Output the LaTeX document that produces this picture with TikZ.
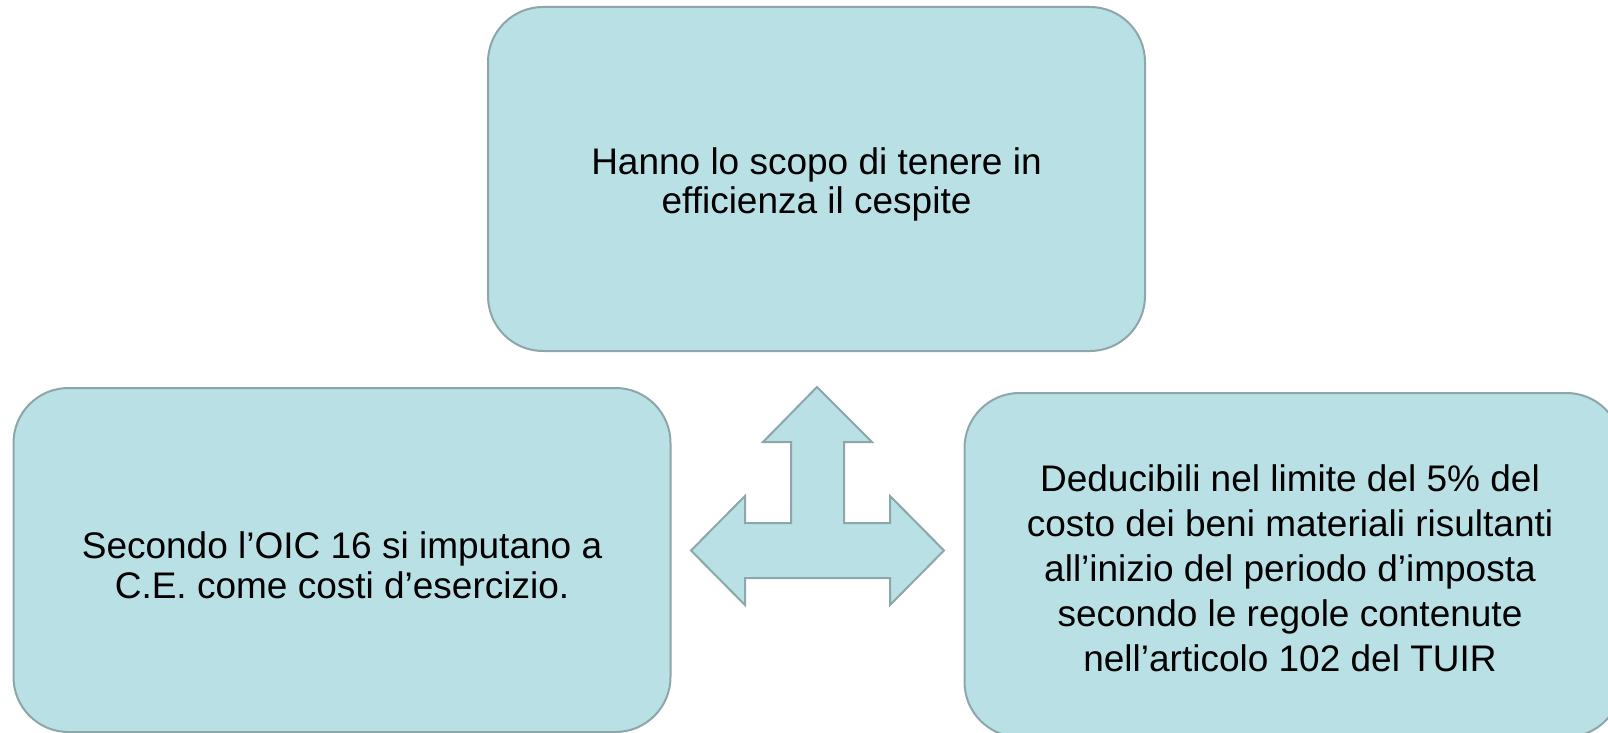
\documentclass[tikz,border=0pt]{standalone}
\usepackage{fontspec}
\setmainfont{Liberation Sans}
\usepackage{tikz}
\definecolor{boxfill}{RGB}{185,224,228}
\definecolor{boxline}{RGB}{140,166,169}

\begin{document}
\begin{tikzpicture}[x=0.5pt, y=-0.5pt,
  card/.style={rectangle, rounded corners=27.5pt, draw=boxline, fill=boxfill,
    line width=1pt, minimum width=328.5pt, minimum height=172pt, inner sep=0pt},
  cardtext/.style={align=center, inner sep=0pt},
  triarrow/.style={draw=boxline, fill=boxfill, line width=1pt, line join=miter}]
\useasboundingbox (0,0) rectangle (1608,733);
\node[card] (scopo) at (816.5,179) {};
\node[card] (oic) at (342,560) {};
\node[card] (tuir) at (1293,565) {};
\node[cardtext, font=\fontsize{18.5}{19.5}\selectfont] (scopotxt) at (816.5,184.5)
  {Hanno lo scopo di tenere in\\efficienza il cespite};
\node[cardtext, font=\fontsize{18.5}{20}\selectfont] (oictxt) at (342,565)
  {Secondo l’OIC 16 si imputano a\\C.E. come costi d’esercizio.};
\node[cardtext, font=\fontsize{18.5}{22.5}\selectfont] (tuirtxt) at (1290,568.5)
  {Deducibili nel limite del 5\% del\\costo dei beni materiali risultanti\\all’inizio del periodo d’imposta\\secondo le regole contenute\\nell’articolo 102 del TUIR};
% freccia a tre punte
\draw[triarrow] (817,387) -- (872,442) -- (844,442) -- (844,523) -- (890,523)
  -- (890,496) -- (944,550.5) -- (890,605) -- (890,578) -- (745,578)
  -- (745,605) -- (691,550.5) -- (745,496) -- (745,523) -- (791,523)
  -- (791,442) -- (763,442) -- cycle;
\end{tikzpicture}
\end{document}
